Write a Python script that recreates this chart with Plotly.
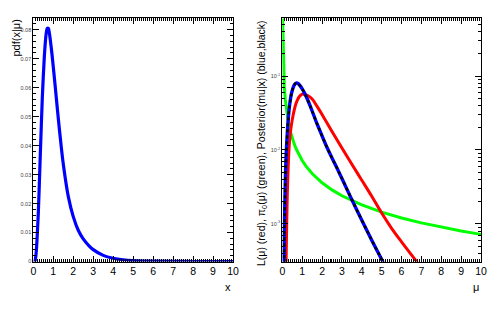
import plotly.graph_objects as go

# ---- data ----
# posterior / pdf (blue; same curve in both panels)
mu_post = [0.0, 0.05, 0.08, 0.10, 0.125, 0.15, 0.175, 0.20, 0.25, 0.30, 0.35, 0.40, 0.45,
           0.50, 0.55, 0.60, 0.65, 0.70, 0.75, 0.80, 0.90, 1.00, 1.10, 1.20, 1.30, 1.40,
           1.50, 1.75, 2.00, 2.25, 2.50, 2.75, 3.00, 3.50, 4.00, 4.50, 5.00, 5.50, 6.00,
           7.00, 8.00, 10.0]
post_vals = [0.0, 0.00003, 0.0002, 0.0007, 0.0018, 0.0037, 0.0063, 0.0095, 0.0168, 0.0265,
             0.037, 0.047, 0.0565, 0.064, 0.0705, 0.0755, 0.079, 0.0805, 0.0805, 0.079,
             0.0737, 0.0672, 0.0602, 0.053, 0.046, 0.0395, 0.0337, 0.0225, 0.0155, 0.0108,
             0.0078, 0.0057, 0.0041, 0.00212, 0.00112, 0.0006, 0.00033, 0.00018, 0.0001,
             0.00003, 0.000008, 0.0000005]

# likelihood (red)
mu_like = [0.10, 0.15, 0.20, 0.225, 0.25, 0.30, 0.35, 0.40, 0.47, 0.55, 0.64, 0.75, 0.85,
           1.00, 1.10, 1.25, 1.50, 1.75, 2.00, 2.50, 3.00, 3.50, 4.00, 4.50, 5.00, 5.50,
           6.00, 6.50, 7.00, 8.00, 10.0]
like_vals = [0.000002, 0.00005, 0.000447, 0.00112, 0.0024, 0.00631, 0.01175, 0.0166, 0.0229,
             0.0302, 0.0385, 0.0468, 0.0525, 0.0570, 0.0568, 0.0550, 0.0490, 0.0389, 0.0302,
             0.0178, 0.0106, 0.0064, 0.0039, 0.00236, 0.0014, 0.00087, 0.00057, 0.00038,
             0.00025, 0.0001, 0.00002]

# prior (green)
mu_prior = [0.01, 0.05, 0.10, 0.15, 0.20, 0.25, 0.30, 0.40, 0.50, 0.60, 0.70, 0.80, 1.00,
            1.20, 1.50, 2.00, 2.50, 3.00, 3.50, 4.00, 5.00, 6.00, 7.00, 8.00, 9.00, 10.0]
prior_vals = [0.72, 0.144, 0.072, 0.048, 0.036, 0.0288, 0.024, 0.018, 0.0144, 0.012, 0.0103,
              0.009, 0.0072, 0.006, 0.0048, 0.0036, 0.00288, 0.0024, 0.00206, 0.0018,
              0.00144, 0.0012, 0.00103, 0.0009, 0.0008, 0.00072]

x_ticks = list(range(11))
pdf_yticks = [0, 0.01, 0.02, 0.03, 0.04, 0.05, 0.06, 0.07, 0.08]
pdf_ytick_text = ["0", "0.01", "0.02", "0.03", "0.04", "0.05", "0.06", "0.07", "0.08"]
log_ticks = [0.001, 0.01, 0.1]
log_tick_text = ["10<sup>-3</sup>", "10<sup>-2</sup>", "10<sup>-1</sup>"]
log_minor = [m * 10 ** e for e in (-4, -3, -2, -1) for m in range(2, 10)]

FONT = "Liberation Sans, Arial, Helvetica, sans-serif"

fig = go.Figure()

# left panel
fig.add_trace(go.Scatter(x=mu_post, y=post_vals, mode="lines",
                         line=dict(color="#0000ff", width=3.2, shape="spline"),
                         xaxis="x", yaxis="y", hoverinfo="skip"))

# right panel
pp = [(m, v) for m, v in zip(mu_post, post_vals) if v > 0]
fig.add_trace(go.Scatter(x=mu_prior, y=prior_vals, mode="lines",
                         line=dict(color="#00ff00", width=3.0),
                         xaxis="x2", yaxis="y2", hoverinfo="skip"))
fig.add_trace(go.Scatter(x=mu_like, y=like_vals, mode="lines",
                         line=dict(color="#ff0000", width=3.0, shape="spline"),
                         xaxis="x2", yaxis="y2", hoverinfo="skip"))
fig.add_trace(go.Scatter(x=[p[0] for p in pp], y=[p[1] for p in pp], mode="lines",
                         line=dict(color="#0000ff", width=3.4, shape="spline"),
                         xaxis="x2", yaxis="y2", hoverinfo="skip"))
fig.add_trace(go.Scatter(x=[p[0] for p in pp], y=[p[1] for p in pp], mode="lines",
                         line=dict(color="#000000", width=2.4, shape="spline", dash="3px,3px"),
                         xaxis="x2", yaxis="y2", hoverinfo="skip"))

common_x = dict(range=[0, 10], tickmode="array", tickvals=x_ticks, ticks="inside",
                ticklen=6, tickcolor="black", showline=True, linecolor="black",
                linewidth=1, mirror="ticks", showgrid=False, zeroline=False,
                automargin=False,
                tickfont=dict(family=FONT, size=10.5, color="black"),
                minor=dict(ticks="inside", dtick=0.1, tick0=0, ticklen=3, tickcolor="black",
                           showgrid=False))

fig.update_layout(
    width=498, height=315, margin=dict(l=0, r=0, t=0, b=0, autoexpand=False),
    paper_bgcolor="white", plot_bgcolor="white", showlegend=False,
    xaxis=dict(domain=[0.0669, 0.4679], anchor="y", **common_x),
    xaxis2=dict(domain=[0.5669, 0.9659], anchor="y2", **common_x),
    yaxis=dict(domain=[0.1698, 0.9413], anchor="x", range=[0, 0.0839], automargin=False,
               tickmode="array", tickvals=pdf_yticks, ticktext=pdf_ytick_text,
               ticks="inside", ticklen=6, tickcolor="black", showline=True,
               linecolor="black", linewidth=1, mirror="ticks", showgrid=False,
               zeroline=False, tickfont=dict(family=FONT, size=5.5, color="#444"),
               minor=dict(ticks="inside", dtick=0.002, tick0=0, ticklen=3,
                          tickcolor="black", showgrid=False)),
    yaxis2=dict(domain=[0.1698, 0.9413], anchor="x2", type="log", range=[-3.51, -0.22],
                automargin=False,
                tickmode="array", tickvals=log_ticks, ticktext=log_tick_text,
                ticks="inside", ticklen=6, tickcolor="black", showline=True,
                linecolor="black", linewidth=1, mirror="ticks", showgrid=False,
                zeroline=False, tickfont=dict(family=FONT, size=5.5, color="#444"),
                minor=dict(ticks="inside", tickmode="array", tickvals=log_minor, ticklen=3,
                           tickcolor="black", showgrid=False)),
)

ann_font = dict(family=FONT, size=11, color="black")
fig.add_annotation(text="x", xref="paper", yref="paper", x=233 / 498, y=1 - 287 / 315,
                   xanchor="right", yanchor="middle", showarrow=False, font=ann_font)
fig.add_annotation(text="μ", xref="paper", yref="paper", x=481 / 498, y=1 - 287 / 315,
                   xanchor="right", yanchor="middle", showarrow=False, font=ann_font)
fig.add_annotation(text="pdf(x|μ)", xref="paper", yref="paper", x=15 / 498, y=1 - 18 / 315,
                   xanchor="center", yanchor="top", textangle=-90, showarrow=False,
                   font=ann_font)
fig.add_annotation(text="L(μ) (red), π<sub>0</sub>(μ) (green), Posterior(mu|x) (blue,black)",
                   xref="paper", yref="paper", x=262 / 498, y=1 - 18 / 315,
                   xanchor="center", yanchor="top", textangle=-90, showarrow=False,
                   font=dict(family=FONT, size=10.5, color="black"))

fig.write_html("out.html", config={"displayModeBar": False, "staticPlot": True},
               post_script="document.body.style.margin='0px';document.body.style.overflow='hidden';")
